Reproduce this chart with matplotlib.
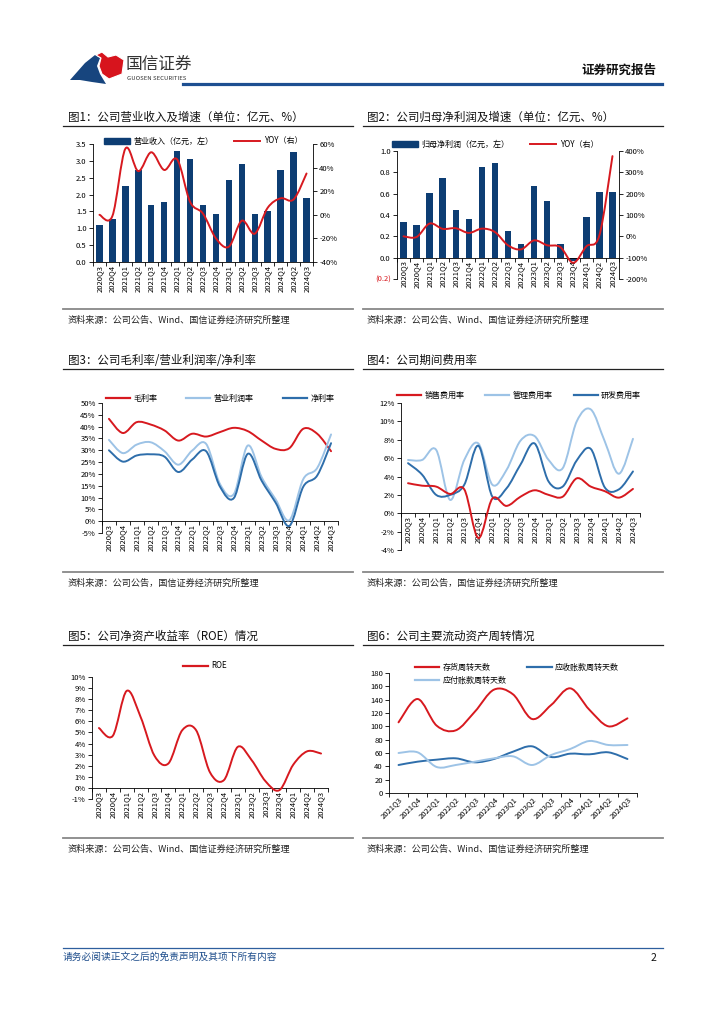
import numpy as np
import matplotlib
matplotlib.use('Agg')
import matplotlib.pyplot as plt
from matplotlib.path import Path
from matplotlib.patches import PathPatch, Polygon, Patch
from matplotlib.lines import Line2D

plt.rcParams['font.family'] = ['Noto Sans CJK SC', 'DejaVu Sans']
plt.rcParams['axes.unicode_minus'] = False

# ---- data ----
quarters17 = ['2020Q3', '2020Q4', '2021Q1', '2021Q2', '2021Q3', '2021Q4',
              '2022Q1', '2022Q2', '2022Q3', '2022Q4', '2023Q1', '2023Q2',
              '2023Q3', '2023Q4', '2024Q1', '2024Q2', '2024Q3']
quarters13 = quarters17[4:]

revenue = [1.10, 1.27, 2.25, 2.74, 1.70, 1.78, 3.30, 3.05, 1.68, 1.42,
           2.42, 2.92, 1.42, 1.50, 2.74, 3.27, 1.90]
revenue_yoy = [0, -1, 56, 37, 53, 38, 47, 11, 1, -20, -27, -5, -16, 6, 14, 13, 35]

profit = [0.33, 0.31, 0.61, 0.75, 0.45, 0.36, 0.85, 0.89, 0.25, 0.13,
          0.67, 0.53, 0.13, -0.03, 0.38, 0.62, 0.62]
profit_yoy = [0, -3, 60, 35, 38, 16, 36, 20, -42, -61, -19, -42, -50, -124, -47, 5, 376]

gross_margin = [43.3, 37.3, 41.9, 40.9, 38.4, 34.1, 37.0, 35.8, 37.7, 39.5,
                38.1, 34.1, 30.6, 30.9, 39.1, 37.0, 29.6]
op_margin = [34.4, 28.8, 32.4, 33.4, 29.6, 23.9, 29.9, 32.7, 15.7, 11.5,
             32.0, 18.6, 9.3, 0.4, 17.8, 22.5, 36.7]
net_margin = [30.0, 25.2, 27.8, 28.3, 27.3, 20.8, 26.1, 29.6, 14.6, 9.8,
              28.5, 17.1, 7.9, -2.0, 14.6, 19.3, 33.0]

sales_rate = [3.27, 3.0, 2.9, 2.1, 2.6, -2.7, 1.6, 0.8, 1.8, 2.5,
              2.0, 1.8, 3.8, 2.9, 2.4, 1.7, 2.65]
admin_rate = [5.8, 5.8, 6.9, 1.45, 5.8, 7.6, 3.1, 4.7, 7.9, 8.4,
              5.8, 4.9, 10.0, 11.3, 7.8, 4.3, 8.1]
rd_rate = [5.45, 4.2, 2.0, 2.0, 3.1, 7.35, 1.8, 2.7, 5.3, 7.6,
           3.45, 2.9, 5.75, 7.0, 2.8, 2.6, 4.55]

roe = [5.4, 4.7, 8.75, 6.4, 2.9, 2.2, 5.2, 5.2, 1.4, 0.7,
       3.7, 2.5, 0.6, -0.2, 2.1, 3.3, 3.1]

inventory_days = [106, 141, 101, 94, 122, 155, 148, 111, 132, 157, 125, 100, 112]
receivable_days = [42, 47, 50, 52, 46, 51, 62, 70, 54, 59, 58, 61, 51]
payable_days = [60, 61, 39, 42, 47, 52, 55, 42, 57, 66, 78, 72, 72]

RED = '#d7191f'
NAVY = '#0d3d73'
LIGHT = '#9dc3e6'
BLUE = '#2e6eab'
W, H = 724, 1024

fig = plt.figure(figsize=(W / 100, H / 100), dpi=100)

# page decoration in pixel coords
page = fig.add_axes([0, 0, 1, 1])
page.set_xlim(0, W)
page.set_ylim(H, 0)
page.axis('off')


def box(l, t, r, b):
    return [l / W, 1 - b / H, (r - l) / W, (b - t) / H]


def smooth(ax, y, color, lw=1.4, z=3):
    # Catmull-Rom curve through the points, drawn as cubic beziers
    x = np.arange(len(y), dtype=float)
    y = np.asarray(y, dtype=float)
    n = len(y)
    verts = [(x[0], y[0])]
    codes = [Path.MOVETO]
    for i in range(n - 1):
        j0 = max(i - 1, 0)
        j3 = min(i + 2, n - 1)
        c1 = (x[i] + (x[i + 1] - x[j0]) / 6, y[i] + (y[i + 1] - y[j0]) / 6)
        c2 = (x[i + 1] - (x[j3] - x[i]) / 6, y[i + 1] - (y[j3] - y[i]) / 6)
        verts += [c1, c2, (x[i + 1], y[i + 1])]
        codes += [Path.CURVE4] * 3
    ax.add_patch(PathPatch(Path(verts, codes), fill=False, edgecolor=color,
                           lw=lw, zorder=z, capstyle='round', joinstyle='round'))


def cat_axis(ax, labels, rot=90, spine0=True):
    # spine position first: moving it resets the ticks
    if spine0:
        ax.spines['bottom'].set_position(('data', 0))
    n = len(labels)
    ax.set_xlim(-0.5, n - 0.5)
    ax.set_xticks(range(n))
    if rot == 90:
        ax.set_xticklabels(labels, rotation=90, fontsize=5.5)
    else:
        ax.set_xticklabels(labels, rotation=rot, ha='right',
                           rotation_mode='anchor', fontsize=5.5)
    ax.set_xticks(np.arange(-0.5, n, 1.0), minor=True)
    ax.tick_params(axis='x', which='major', length=0, pad=2)
    ax.tick_params(axis='x', which='minor', length=3, width=0.6, direction='out')
    ax.tick_params(axis='y', length=3, width=0.6, direction='out', labelsize=5.5, pad=1.5)
    for s in ['top', 'right']:
        ax.spines[s].set_visible(False)
    for s in ['left', 'bottom']:
        ax.spines[s].set_linewidth(0.6)
    ax.patch.set_alpha(0)


def pct(v):
    return '%d%%' % v


def legend_at(ax, handles, labels, cx, cy, ncol, **kw):
    ax.legend(handles, labels, loc='center', bbox_to_anchor=(cx / W, 1 - cy / H),
              bbox_transform=fig.transFigure, ncol=ncol, frameon=False,
              fontsize=5.8, handletextpad=0.4, borderpad=0, **kw)


# ---- chart 1 ----
ax1 = fig.add_axes(box(93, 144, 313, 262))
cat_axis(ax1, quarters17, spine0=False)
ax1.bar(range(17), revenue, width=0.5, color=NAVY, zorder=2)
ax1.set_ylim(0, 3.5)
ax1.set_yticks(np.arange(0, 3.51, 0.5))
ax1.set_yticklabels(['%.1f' % v for v in np.arange(0, 3.51, 0.5)])
ax1r = ax1.twinx()
ax1r.set_ylim(-40, 60)
ax1r.set_yticks(range(-40, 61, 20))
ax1r.set_yticklabels([pct(v) for v in range(-40, 61, 20)])
ax1r.tick_params(axis='y', length=3, width=0.6, labelsize=5.5, pad=1.5)
for s in ['top', 'left', 'bottom']:
    ax1r.spines[s].set_visible(False)
ax1r.spines['right'].set_linewidth(0.6)
smooth(ax1r, revenue_yoy, RED)
legend_at(ax1r, [Patch(color=NAVY), Line2D([], [], color=RED, lw=1.4)],
          ['营业收入（亿元，左）', 'YOY（右）'], 203, 141, 2,
          handlelength=3.3, columnspacing=2.5)

# ---- chart 2 ----
ax2 = fig.add_axes(box(397, 151, 619, 279))
cat_axis(ax2, quarters17)
ax2.bar(range(17), profit, width=0.5, color=NAVY, zorder=2)
ax2.set_ylim(-0.2, 1.0)
ticks2 = np.arange(-0.2, 1.01, 0.2)
ax2.set_yticks(ticks2)
ax2.set_yticklabels(['(0.2)'] + ['%.1f' % v for v in ticks2[1:]])
ax2.get_yticklabels()[0].set_color(RED)
ax2r = ax2.twinx()
ax2r.set_ylim(-200, 400)
ax2r.set_yticks(range(-200, 401, 100))
ax2r.set_yticklabels([pct(v) for v in range(-200, 401, 100)])
ax2r.tick_params(axis='y', length=3, width=0.6, labelsize=5.5, pad=1.5)
for s in ['top', 'left', 'bottom']:
    ax2r.spines[s].set_visible(False)
ax2r.spines['right'].set_linewidth(0.6)
smooth(ax2r, profit_yoy, RED)
legend_at(ax2r, [Patch(color=NAVY), Line2D([], [], color=RED, lw=1.4)],
          ['归母净利润（亿元，左）', 'YOY（右）'], 495, 144, 2,
          handlelength=3.3, columnspacing=2.5)

# ---- chart 3 ----
ax3 = fig.add_axes(box(102, 403, 338, 533))
cat_axis(ax3, quarters17)
ax3.set_ylim(-5, 50)
ax3.set_yticks(range(-5, 51, 5))
ax3.set_yticklabels([pct(v) for v in range(-5, 51, 5)])
smooth(ax3, gross_margin, RED)
smooth(ax3, op_margin, LIGHT)
smooth(ax3, net_margin, BLUE)
legend_at(ax3, [Line2D([], [], color=c, lw=1.6) for c in (RED, LIGHT, BLUE)],
          ['毛利率', '营业利润率', '净利率'], 220, 398, 3,
          handlelength=3.0, columnspacing=3.6)

# ---- chart 4 ----
ax4 = fig.add_axes(box(401, 403, 640, 550))
cat_axis(ax4, quarters17)
ax4.set_ylim(-4, 12)
ax4.set_yticks(range(-4, 13, 2))
ax4.set_yticklabels([pct(v) for v in range(-4, 13, 2)])
smooth(ax4, admin_rate, LIGHT)
smooth(ax4, rd_rate, BLUE)
smooth(ax4, sales_rate, RED)
legend_at(ax4, [Line2D([], [], color=c, lw=1.6) for c in (RED, LIGHT, BLUE)],
          ['销售费用率', '管理费用率', '研发费用率'], 519, 395, 3,
          handlelength=3.0, columnspacing=2.6)

# ---- chart 5 ----
ax5 = fig.add_axes(box(92, 677, 328, 799))
cat_axis(ax5, quarters17)
ax5.set_ylim(-1, 10)
ax5.set_yticks(range(-1, 11))
ax5.set_yticklabels([pct(v) for v in range(-1, 11)])
smooth(ax5, roe, RED)
legend_at(ax5, [Line2D([], [], color=RED, lw=1.6)], ['ROE'], 205, 666, 1,
          handlelength=3.0)

# ---- chart 6 ----
ax6 = fig.add_axes(box(389, 673, 637, 793))
cat_axis(ax6, quarters13, rot=45)
ax6.set_ylim(0, 180)
ax6.set_yticks(range(0, 181, 20))
smooth(ax6, inventory_days, RED)
smooth(ax6, receivable_days, BLUE)
smooth(ax6, payable_days, LIGHT)
legend_at(ax6, [Line2D([], [], color=c, lw=1.6) for c in (RED, LIGHT, BLUE)],
          ['存货周转天数', '应付账款周转天数', '应收账款周转天数'], 517, 674, 2,
          handlelength=3.0, columnspacing=2.6, labelspacing=0.5)

# ---- titles, rules and sources ----
titles = ['图1：公司营业收入及增速（单位：亿元、%）', '图2：公司归母净利润及增速（单位：亿元、%）',
          '图3：公司毛利率/营业利润率/净利率', '图4：公司期间费用率',
          '图5：公司净资产收益率（ROE）情况', '图6：公司主要流动资产周转情况']
src_a = '资料来源：公司公告、Wind、国信证券经济研究所整理'
src_b = '资料来源：公司公告，国信证券经济研究所整理'
sources = [src_a, src_a, src_b, src_b, src_a, src_a]
title_y = [117, 360, 636]
rule_y = [309, 572, 838]
cols = [(63, 353, 68), (363, 663, 367)]
for r in range(3):
    for c in range(2):
        x0, x1, tx = cols[c]
        k = r * 2 + c
        page.text(tx, title_y[r], titles[k], fontsize=8.3, va='center', ha='left', color='#111111')
        page.plot([x0, x1], [title_y[r] + 9, title_y[r] + 9], color='#222222', lw=0.9)
        page.plot([x0, x1], [rule_y[r], rule_y[r]], color='#888888', lw=1.3)
        page.text(tx, rule_y[r] + 11, sources[k], fontsize=6.6, va='center', ha='left', color='#222222')

# header logo
page.add_patch(Polygon([(70, 80), (85, 63), (95, 55), (100, 58), (97, 66), (100, 74),
                        (106, 84), (92, 82), (80, 80)], closed=True, facecolor='#17457e',
                       edgecolor='none'))
page.add_patch(Polygon([(96, 55), (102, 52), (108, 57), (116, 55), (124, 60), (122, 74),
                        (109, 79), (102, 74), (99, 66), (101, 58)], closed=True,
                       facecolor='#d7141d', edgecolor='white', lw=0.8))
page.text(126, 64, '国信证券', fontsize=12, va='center', ha='left', color='#333333')
page.text(127, 79, 'GUOSEN SECURITIES', fontsize=4.3, va='center', ha='left', color='#333333')
page.text(656, 70, '证券研究报告', fontsize=9, va='center', ha='right', color='#111111', weight='bold')
page.plot([183, 662], [84, 84], color='#1d4f91', lw=2.3)

# footer
page.plot([63, 663], [948, 948], color='#2e5f9e', lw=0.9)
page.text(63, 957, '请务必阅读正文之后的免责声明及其项下所有内容', fontsize=7, va='center',
          ha='left', color='#1f4e8c', style='italic')
page.text(656, 958, '2', fontsize=7.5, va='center', ha='right', color='#111111')

fig.savefig('out.png', dpi=100)
